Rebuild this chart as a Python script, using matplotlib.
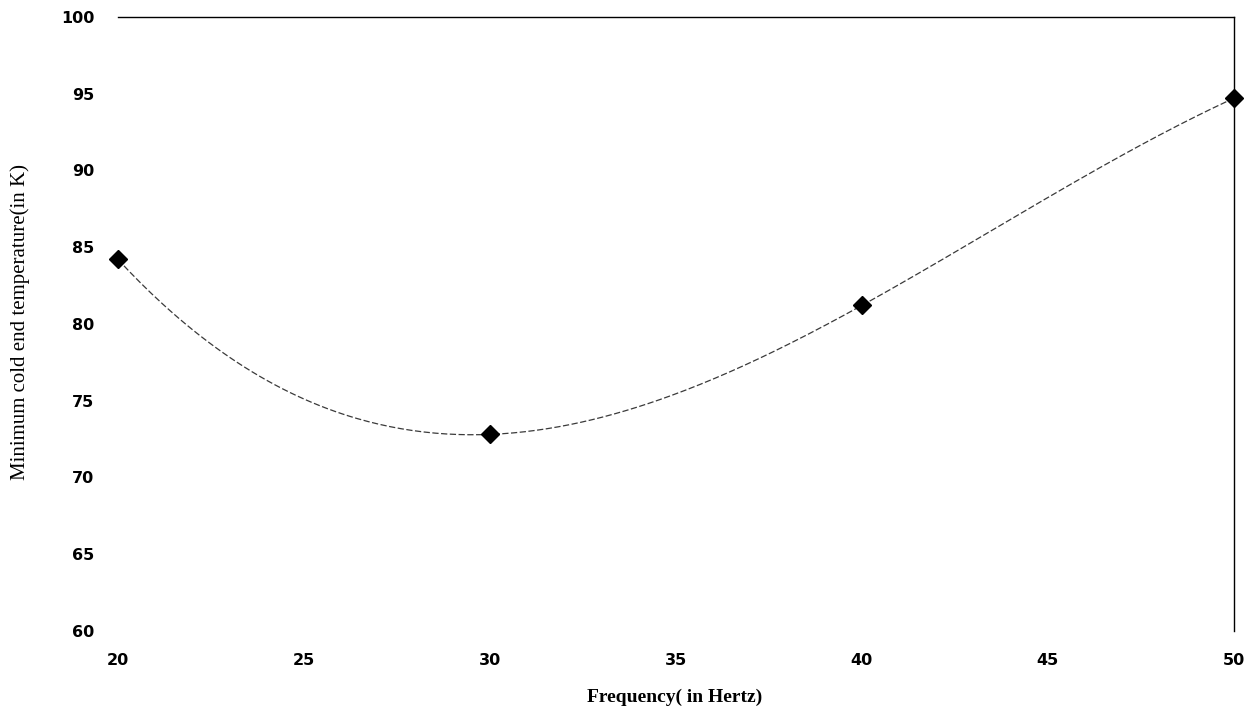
import numpy as np
import matplotlib
matplotlib.use("Agg")
import matplotlib.pyplot as plt

# data
freq = [20, 30, 40, 50]
temp = [84.2, 72.8, 81.2, 94.7]
xticks = [20, 25, 30, 35, 40, 45, 50]
yticks = [60, 65, 70, 75, 80, 85, 90, 95, 100]

fig = plt.figure(figsize=(12.55, 7.08), dpi=100)
ax = fig.add_axes([0.094, 0.109, 0.889, 0.867])

# smoothed line through the points (cubic through the 4 points)
coef = np.polyfit(freq, temp, 3)
sx = np.linspace(freq[0], freq[-1], 300)
sy = np.polyval(coef, sx)
ax.plot(sx, sy, color='#3a3a3a', linewidth=0.9, linestyle=(0, (5, 2)))
ax.plot(freq, temp, linestyle='none', marker='D', markersize=9,
        color='black', clip_on=False, zorder=5)

ax.set_xlim(20, 50)
ax.set_ylim(60, 100)
ax.set_xticks(xticks)
ax.set_yticks(yticks)
ax.tick_params(length=0, labelsize=11.5)
ax.tick_params(axis='y', pad=17)
ax.tick_params(axis='x', pad=16)
for lab in ax.get_xticklabels() + ax.get_yticklabels():
    lab.set_fontweight('bold')
    lab.set_family('DejaVu Sans')

ax.spines['left'].set_visible(False)
ax.spines['bottom'].set_visible(False)
ax.spines['top'].set_linewidth(1.0)
ax.spines['right'].set_linewidth(1.0)

fig.text(675 / 1255, 1 - 697 / 708, 'Frequency( in Hertz)', family='Liberation Serif',
         fontweight='bold', fontsize=14, ha='center', va='center')
fig.text(20 / 1255, 1 - 322 / 708, 'Minimum cold end temperature(in K)',
         family='Liberation Serif', fontsize=15, rotation=90,
         ha='center', va='center')

fig.savefig('out.png', dpi=100)
